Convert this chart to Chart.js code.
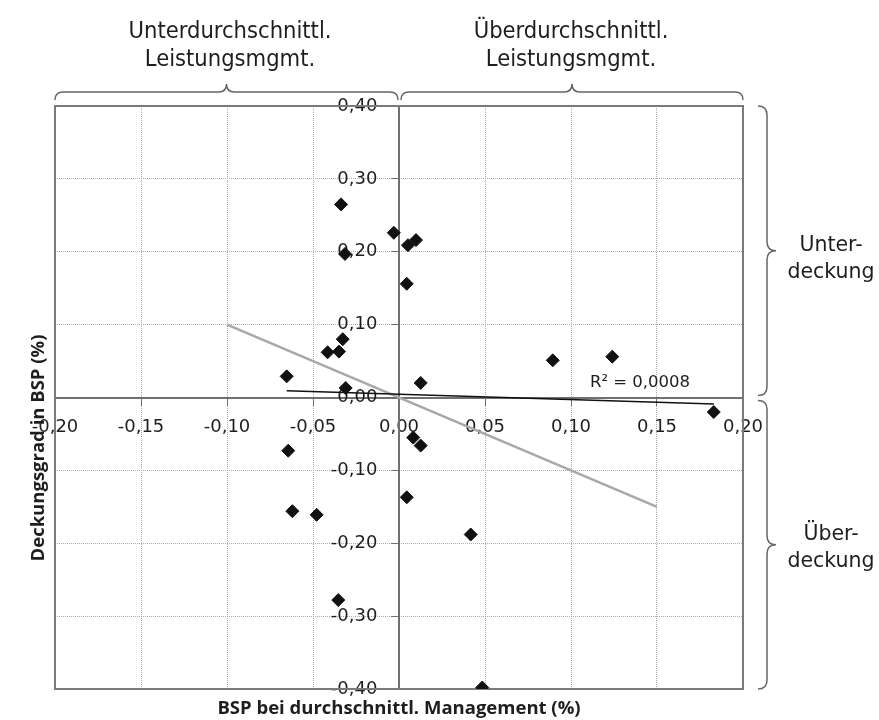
<!DOCTYPE html>
<html>
<head>
<meta charset="utf-8">
<script src="https://cdn.jsdelivr.net/npm/chart.js@4.4.1/dist/chart.umd.min.js"></script>
<style>
  html, body { margin: 0; padding: 0; background: #fff; }
  #wrap { width: 879px; height: 720px; }
</style>
</head>
<body>
<div id="wrap"><canvas id="deckungChart" width="879" height="720"></canvas></div>
<script>
// BSP bei durchschnittl. Management (x) / Deckungsgrad in BSP (y)
const bspManagement = [-0.0337, -0.0030, 0.0052, 0.0099, -0.0314, 0.0045, -0.0327, -0.0415,
  -0.0349, -0.0653, -0.0310, 0.0126, 0.0894, 0.1240, 0.1830, 0.0083, 0.0126, -0.0644,
  -0.0620, -0.0479, 0.0045, 0.0417, -0.0353, 0.0484];
const deckungsgrad = [0.265, 0.226, 0.209, 0.216, 0.197, 0.156, 0.080, 0.062,
  0.063, 0.029, 0.013, 0.020, 0.051, 0.056, -0.020, -0.055, -0.066, -0.073,
  -0.156, -0.161, -0.137, -0.188, -0.278, -0.398];

// linear trend line as printed (ends)
const trendX = [-0.0653, 0.1831];
const trendY = [0.0093, -0.0089];

// reference diagonal (y = -x)
const diagonalX = [-0.10, 0.15];
const diagonalY = [0.10, -0.15];

const xRange = [-0.20, 0.20];
const yRange = [-0.40, 0.40];
const r2Label = 'R² = 0,0008';

const headerLeft = ['Unterdurchschnittl.', 'Leistungsmgmt.'];
const headerRight = ['Überdurchschnittl.', 'Leistungsmgmt.'];
const sideTop = ['Unter-', 'deckung'];
const sideBottom = ['Über-', 'deckung'];
const xTitle = 'BSP bei durchschnittl. Management (%)';
const yTitle = 'Deckungsgrad in BSP (%)';

const fmt = v => (Math.abs(v) < 1e-9 ? 0 : v).toFixed(2).replace('.', ',');

function hBrace(ctx, x1, x2, yl, h) {
  const xm = (x1 + x2) / 2, r = h;
  ctx.beginPath();
  ctx.moveTo(x1, yl + h);
  ctx.quadraticCurveTo(x1, yl, x1 + r, yl);
  ctx.lineTo(xm - r, yl);
  ctx.quadraticCurveTo(xm, yl, xm, yl - h);
  ctx.quadraticCurveTo(xm, yl, xm + r, yl);
  ctx.lineTo(x2 - r, yl);
  ctx.quadraticCurveTo(x2, yl, x2, yl + h);
  ctx.stroke();
}

function vBrace(ctx, y1, y2, xl, h) {
  const ym = (y1 + y2) / 2, r = h;
  ctx.beginPath();
  ctx.moveTo(xl - h, y1);
  ctx.quadraticCurveTo(xl, y1, xl, y1 + r);
  ctx.lineTo(xl, ym - r);
  ctx.quadraticCurveTo(xl, ym, xl + h, ym);
  ctx.quadraticCurveTo(xl, ym, xl, ym + r);
  ctx.lineTo(xl, y2 - r);
  ctx.quadraticCurveTo(xl, y2, xl - h, y2);
  ctx.stroke();
}

const decor = {
  id: 'decor',
  beforeDatasetsDraw(chart) {
    const {ctx, chartArea: a} = chart;
    ctx.save();
    ctx.strokeStyle = '#7a7a7a';
    ctx.lineWidth = 2;
    ctx.strokeRect(a.left, a.top, a.right - a.left, a.bottom - a.top);
    ctx.restore();
  },
  afterDraw(chart) {
    const {ctx, chartArea: a, scales: {x, y}} = chart;
    const x0 = x.getPixelForValue(0), y0 = y.getPixelForValue(0);
    ctx.save();
    ctx.strokeStyle = '#666';
    ctx.lineWidth = 1.5;
    hBrace(ctx, a.left, x0 - 1, 92, 8);
    hBrace(ctx, x0 + 2, a.right, 92, 8);
    vBrace(ctx, a.top, y0 - 2, a.right + 24, 9);
    vBrace(ctx, y0 + 3, a.bottom, a.right + 24, 9);

    ctx.fillStyle = '#1e1e1e';
    ctx.textAlign = 'center';
    ctx.textBaseline = 'alphabetic';
    ctx.font = '23.5px "DejaVu Sans Condensed"';
    const cl = (a.left + x0) / 2 + 3, cr = (x0 + a.right) / 2;
    ctx.fillText(headerLeft[0], cl, 38);
    ctx.fillText(headerLeft[1], cl, 66);
    ctx.fillText(headerRight[0], cr, 38);
    ctx.fillText(headerRight[1], cr, 66);

    ctx.font = '20.5px "DejaVu Sans"';
    ctx.fillText(sideTop[0], 831, 251);
    ctx.fillText(sideTop[1], 831, 278);
    ctx.fillText(sideBottom[0], 831, 540);
    ctx.fillText(sideBottom[1], 831, 567);

    ctx.textBaseline = 'middle';
    ctx.font = 'bold 18.5px "Open Sans"';
    ctx.fillText(xTitle, x0, 709);
    ctx.save();
    ctx.translate(39, 448);
    ctx.rotate(-Math.PI / 2);
    ctx.fillText(yTitle, 0, 0);
    ctx.restore();

    ctx.font = '16.5px "DejaVu Sans"';
    ctx.textAlign = 'left';
    ctx.fillText(r2Label, x.getPixelForValue(0.111), y.getPixelForValue(0.020));
    ctx.restore();
  }
};

const tickFont = { family: 'DejaVu Sans', size: 18 };

new Chart(document.getElementById('deckungChart'), {
  type: 'scatter',
  data: {
    datasets: [
      {
        label: 'Diagonale',
        data: diagonalX.map((v, i) => ({x: v, y: diagonalY[i]})),
        showLine: true,
        borderColor: '#a8a8a8',
        borderWidth: 2.5,
        pointRadius: 0,
        order: 3
      },
      {
        label: 'Trend',
        data: trendX.map((v, i) => ({x: v, y: trendY[i]})),
        showLine: true,
        borderColor: '#111',
        borderWidth: 1.6,
        pointRadius: 0,
        order: 2
      },
      {
        label: 'Deckungsgrad',
        data: bspManagement.map((v, i) => ({x: v, y: deckungsgrad[i]})),
        pointStyle: 'rectRot',
        pointRadius: 6.5,
        backgroundColor: '#111',
        borderColor: '#111',
        borderWidth: 1,
        order: 1
      }
    ]
  },
  options: {
    responsive: false,
    animation: false,
    layout: { padding: { left: 55, right: 136, top: 106, bottom: 31 } },
    plugins: { legend: { display: false }, tooltip: { enabled: false } },
    scales: {
      x: {
        type: 'linear',
        position: { y: 0 },
        min: xRange[0], max: xRange[1],
        ticks: {
          stepSize: 0.05,
          callback: v => fmt(v),
          color: '#1e1e1e',
          font: tickFont,
          padding: 12,
          maxRotation: 0
        },
        grid: { color: '#ababab', tickColor: '#707070', tickLength: 7, lineWidth: 1 },
        border: { color: '#707070', width: 2, dash: [1, 1] }
      },
      y: {
        type: 'linear',
        position: { x: 0 },
        min: yRange[0], max: yRange[1],
        ticks: {
          stepSize: 0.10,
          // centred axis ignores padding, so keep the gap with trailing spaces
          callback: v => fmt(v) + '\u2002\u2002\u2009',
          color: '#1e1e1e',
          font: tickFont
        },
        grid: { color: '#ababab', tickColor: '#707070', tickLength: 7, lineWidth: 1 },
        border: { color: '#707070', width: 2, dash: [1, 1] }
      }
    }
  },
  plugins: [decor]
});
</script>
</body>
</html>
